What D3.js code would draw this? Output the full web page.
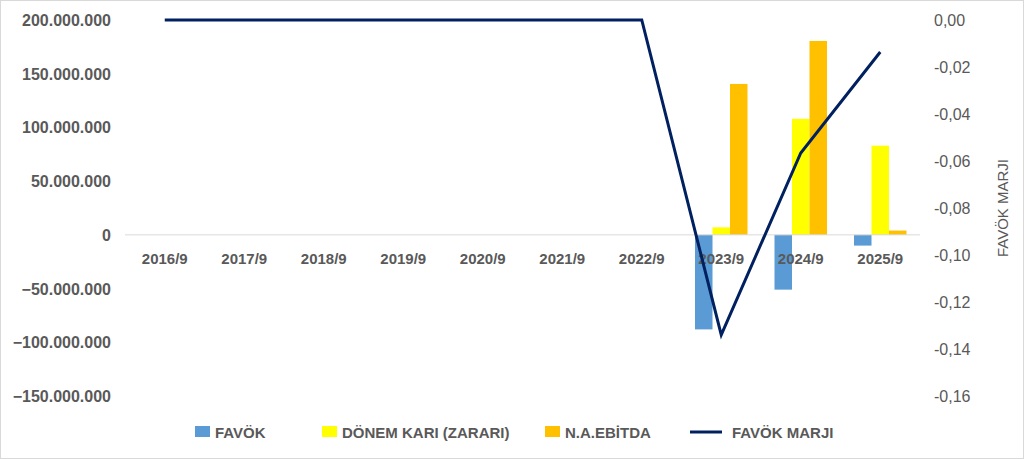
<!DOCTYPE html><html><head><meta charset="utf-8"><script src="https://cdn.jsdelivr.net/npm/d3@7"></script>
<style>body{margin:0;background:#fff}svg{font-family:"Liberation Sans",Arial,sans-serif}</style></head><body>
<svg id="c" width="1024" height="459"></svg>
<script>
const categories=["2016/9","2017/9","2018/9","2019/9","2020/9","2021/9","2022/9","2023/9","2024/9","2025/9"];
const favok=[0,0,0,0,0,0,0,-88000000,-51000000,-10000000];
const donem=[0,0,0,0,0,0,0,7000000,108000000,83000000];
const ebitda=[0,0,0,0,0,0,0,140500000,180500000,4000000];
const marj=[0,0,0,0,0,0,0,-0.134,-0.0566,-0.0136];
const leftTicks=[200e6,150e6,100e6,50e6,0,-50e6,-100e6,-150e6];
const rightTicks=[0,-0.02,-0.04,-0.06,-0.08,-0.10,-0.12,-0.14,-0.16];
const svg=d3.select("#c");
svg.append("rect").attr("x",0.5).attr("y",0.5).attr("width",1023).attr("height",458).attr("fill","#fff").attr("stroke","#d9d9d9");
const x=d3.scaleBand().domain(categories).range([125,920]);
const y=d3.scaleLinear().domain([-150e6,200e6]).range([396,20]);
const y2=d3.scaleLinear().domain([-0.16,0]).range([396,20]);
const fmt=d=>d3.format(",")(d).replace(/,/g,".");
const g=svg.append("g");
leftTicks.forEach(t=>g.append("text").attr("x",111).attr("y",y(t)+6).attr("text-anchor","end").attr("font-size",16).attr("font-weight","bold").attr("fill","#595959").text(fmt(t)));
rightTicks.forEach(t=>g.append("text").attr("x",934).attr("y",y2(t)+6).attr("font-size",16).attr("fill","#595959").text(t.toFixed(2).replace(".",",")));
svg.append("text").attr("transform","translate(1008,208) rotate(-90)").attr("text-anchor","middle").attr("font-size",15).attr("fill","#595959").text("FAVÖK MARJI");
const series=[{v:favok,c:"#5B9BD5"},{v:donem,c:"#FFFF00"},{v:ebitda,c:"#FFC000"}];
const bw=17.5;
series.forEach((s,i)=>{
 svg.append("g").selectAll("rect").data(categories).join("rect")
 .attr("x",d=>x(d)+x.bandwidth()/2-bw*1.5+i*bw).attr("width",bw)
 .attr("y",(d,j)=>y(Math.max(0,s.v[j]))).attr("height",(d,j)=>Math.abs(y(s.v[j])-y(0)))
 .attr("fill",s.c);
});
svg.append("line").attr("x1",125).attr("x2",920).attr("y1",y(0)).attr("y2",y(0)).attr("stroke","#d9d9d9");
categories.forEach(c=>svg.append("text").attr("x",x(c)+x.bandwidth()/2).attr("y",264).attr("text-anchor","middle").attr("font-size",15).attr("font-weight","bold").attr("fill","#595959").text(c));
svg.append("path").datum(marj).attr("fill","none").attr("stroke","#002060").attr("stroke-width",3)
 .attr("d",d3.line().x((d,i)=>x(categories[i])+x.bandwidth()/2).y(d=>y2(d)));
const lg=svg.append("g").attr("font-size",15).attr("font-weight","bold").attr("fill","#595959");
[[195,"#5B9BD5","FAVÖK"],[322,"#FFFF00","DÖNEM KARI (ZARARI)"],[545,"#FFC000","N.A.EBİTDA"]].forEach(([px,c,t])=>{
 lg.append("rect").attr("x",px).attr("y",426).attr("width",15).attr("height",11).attr("fill",c);
 lg.append("text").attr("x",px+20).attr("y",438).text(t);
});
lg.append("line").attr("x1",690).attr("x2",722).attr("y1",432).attr("y2",432).attr("stroke","#002060").attr("stroke-width",3);
lg.append("text").attr("x",732).attr("y",438).text("FAVÖK MARJI");
</script></body></html>
